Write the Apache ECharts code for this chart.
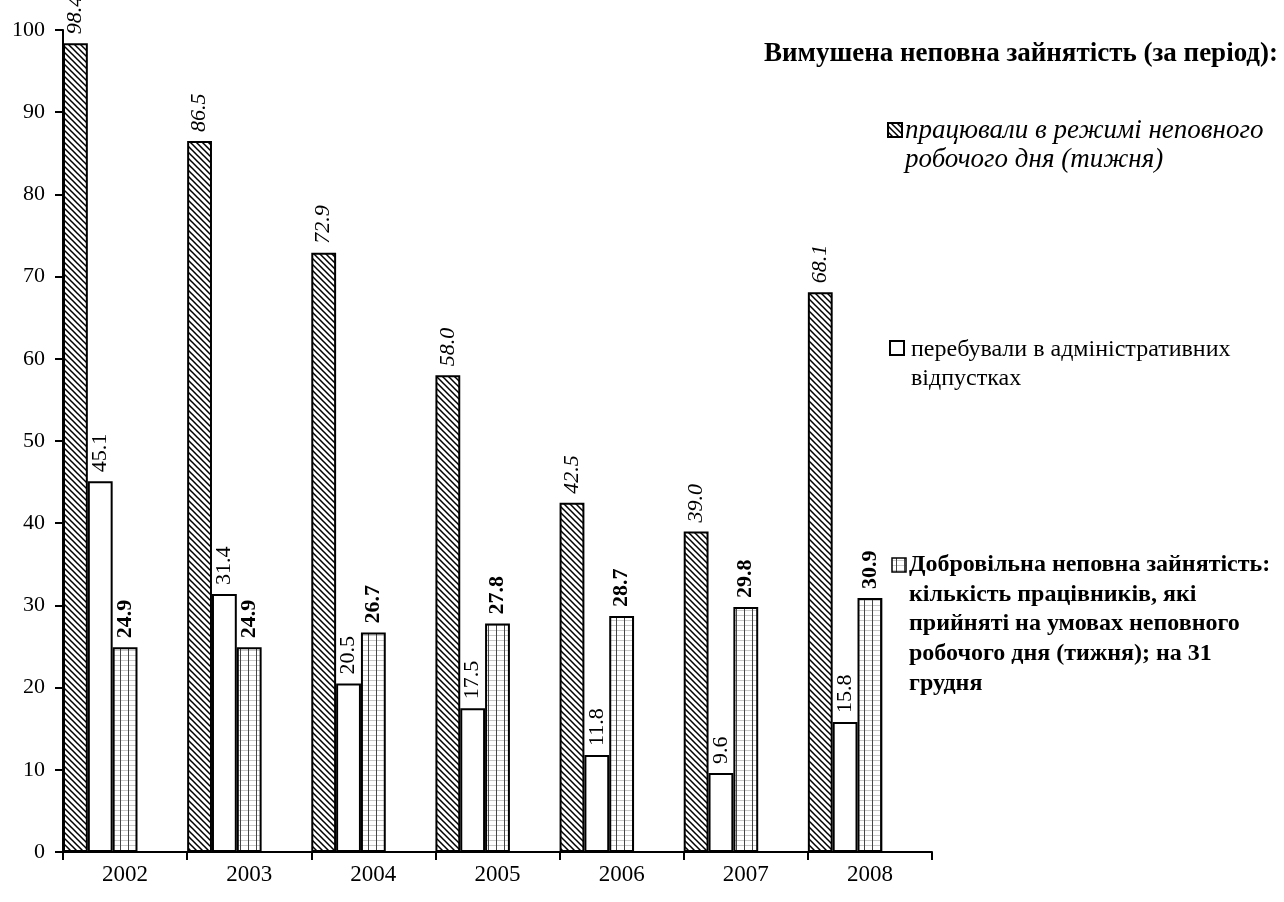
<!DOCTYPE html>
<html>
<head>
<meta charset="utf-8">
<script src="https://cdn.jsdelivr.net/npm/echarts@6/dist/echarts.min.js"></script>
<style>
html,body{margin:0;padding:0;background:#fff;}
#chart{width:1284px;height:902px;}
</style>
</head>
<body>
<div id="chart"></div>
<script>
const years = ['2002','2003','2004','2005','2006','2007','2008'];
const partTime = [98.4, 86.5, 72.9, 58.0, 42.5, 39.0, 68.1];
const adminLeave = [45.1, 31.4, 20.5, 17.5, 11.8, 9.6, 15.8];
const voluntary = [24.9, 24.9, 26.7, 27.8, 28.7, 29.8, 30.9];
const yTicks = [0,10,20,30,40,50,60,70,80,90,100];

const legendTitle = 'Вимушена неповна зайнятість (за період):';
const name1 = 'працювали в режимі неповного\nробочого дня (тижня)';
const name2 = 'перебували в адміністративних\nвідпустках';
const name3 = 'Добровільна неповна зайнятість:\nкількість працівників, які\nприйняті на умовах неповного\nробочого дня (тижня); на 31\nгрудня';

function hatchCanvas(){
  const c = document.createElement('canvas');
  c.width = 6; c.height = 6;
  const g = c.getContext('2d');
  g.fillStyle = '#fff'; g.fillRect(0,0,6,6);
  g.strokeStyle = '#000'; g.lineWidth = 1.5;
  g.beginPath();
  g.moveTo(-1,-1); g.lineTo(7,7);
  g.moveTo(-4,2); g.lineTo(1,7);
  g.moveTo(2,-4); g.lineTo(7,1);
  g.stroke();
  return c;
}
function gridCanvas(){
  const c = document.createElement('canvas');
  c.width = 8; c.height = 5;
  const g = c.getContext('2d');
  g.fillStyle = '#fff'; g.fillRect(0,0,8,5);
  g.fillStyle = '#c8c8c8'; g.fillRect(0,0,8,1);
  g.fillStyle = '#444'; g.fillRect(0,0,1,5);
  return c;
}
const hatch = {image: hatchCanvas(), repeat: 'repeat'};
const gridP = {image: gridCanvas(), repeat: 'repeat'};

const font = '"Liberation Serif", "Times New Roman", serif';

function lbl(style, weight){
  return {
    show: true, position: 'top', rotate: 90, align: 'left', verticalAlign: 'middle',
    distance: 9, fontFamily: font, fontSize: 22, color: '#000',
    fontStyle: style, fontWeight: weight,
    formatter: p => p.value.toFixed(1)
  };
}

const chart = echarts.init(document.getElementById('chart'), null, {renderer:'canvas'});
chart.setOption({
  animation: false,
  backgroundColor: '#fff',
  grid: {left: 63, right: 352, top: 30, bottom: 50, containLabel: false},
  xAxis: {
    type: 'category', data: years,
    axisLine: {lineStyle: {color: '#000', width: 2}},
    axisTick: {show: true, length: 8, lineStyle: {color: '#000', width: 2}},
    axisLabel: {fontFamily: font, fontSize: 23, color: '#000', margin: 11}
  },
  yAxis: {
    type: 'value', min: 0, max: 100, interval: 10,
    splitLine: {show: false},
    axisLine: {show: true, lineStyle: {color: '#000', width: 2}},
    axisTick: {show: true, length: 8, lineStyle: {color: '#000', width: 2}},
    axisLabel: {fontFamily: font, fontSize: 22, color: '#000', margin: 18,
      formatter: v => yTicks.includes(v) ? String(v) : ''}
  },
  series: [
    {name: name1, type: 'bar', data: partTime, barGap: 0, barCategoryGap: 0,
     itemStyle: {color: hatch, borderColor: '#000', borderWidth: 2},
     label: lbl('italic','normal')},
    {name: name2, type: 'bar', data: adminLeave, barGap: 0, barCategoryGap: 0,
     itemStyle: {color: '#fff', borderColor: '#000', borderWidth: 2},
     label: lbl('normal','normal')},
    {name: name3, type: 'bar', data: voluntary, barGap: 0, barCategoryGap: 0,
     itemStyle: {color: gridP, borderColor: '#000', borderWidth: 2},
     label: lbl('normal','bold')},
    {name: 'blank1', type: 'bar', data: years.map(()=>'-'), barGap: 0, barCategoryGap: 0},
    {name: 'blank2', type: 'bar', data: years.map(()=>'-'), barGap: 0, barCategoryGap: 0}
  ],
  graphic: [
    {type: 'text', right: 6, top: 41, style: {text: legendTitle, font: 'bold 27px ' + font, fill: '#000'}},
    {type: 'rect', shape: {x: 888, y: 123, width: 14, height: 14},
     style: {fill: hatch, stroke: '#000', lineWidth: 2}},
    {type: 'text', x: 905, y: 116, style: {text: name1, font: 'italic 27px ' + font, fill: '#000', lineHeight: 29}},
    {type: 'rect', shape: {x: 890, y: 341, width: 14, height: 14},
     style: {fill: '#fff', stroke: '#000', lineWidth: 2}},
    {type: 'text', x: 911, y: 335, style: {text: name2, font: '24px ' + font, fill: '#000', lineHeight: 29}},
    {type: 'rect', shape: {x: 892, y: 558, width: 14, height: 14},
     style: {fill: gridP, stroke: '#000', lineWidth: 1.5}},
    {type: 'text', x: 909, y: 550, style: {text: name3, font: 'bold 24px ' + font, fill: '#000', lineHeight: 29.7}}
  ]
});
</script>
</body>
</html>
